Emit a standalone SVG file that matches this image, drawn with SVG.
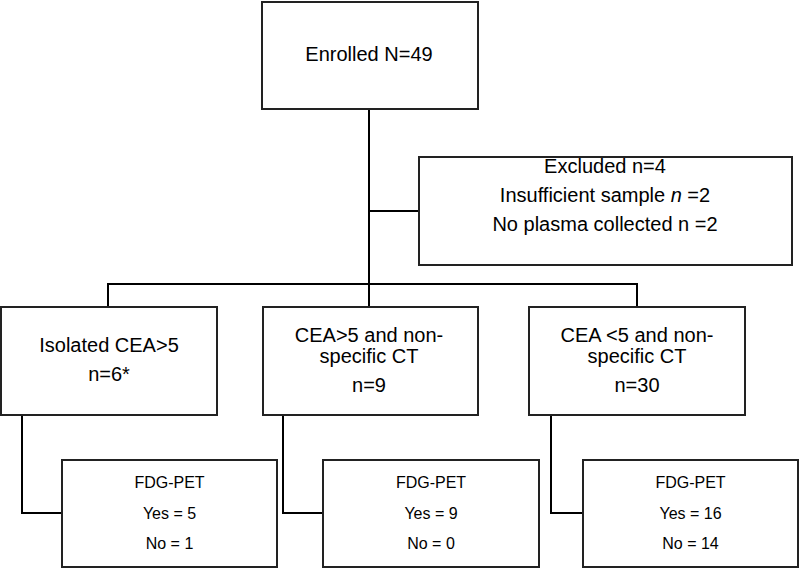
<svg xmlns="http://www.w3.org/2000/svg" width="800" height="569" viewBox="0 0 800 569">
<style>
.box{fill:#fff;stroke:#222;stroke-width:2}
.conn{fill:none;stroke:#000;stroke-width:2}
.t{font-family:"Liberation Sans",Arial,sans-serif;font-size:20px;fill:#000;text-anchor:middle}
.s{font-family:"Liberation Sans",Arial,sans-serif;font-size:16px;fill:#000;text-anchor:middle}
</style>
<rect width="800" height="569" fill="#fff"/>
<g id="connectors">
<path class="conn" d="M369,109 V307"/>
<path class="conn" d="M369,211 H419"/>
<path class="conn" d="M108,307 V284 H637 V307"/>
<path class="conn" d="M22,415 V513 H62"/>
<path class="conn" d="M283,415 V513 H323"/>
<path class="conn" d="M551,415 V513 H583"/>
</g>
<g id="enrolled">
<rect class="box" x="262" y="2" width="216" height="107"/>
<text class="t" x="369" y="61">Enrolled N=49</text>
</g>
<g id="excluded">
<rect class="box" x="419" y="157" width="373" height="108"/>
<text class="t" x="605" y="173">Excluded n=4</text>
<text class="t" x="605" y="202">Insufficient sample <tspan font-style="italic">n</tspan> =2</text>
<text class="t" x="605" y="231">No plasma collected n =2</text>
</g>
<g id="isolated">
<rect class="box" x="1" y="307" width="216" height="108"/>
<text class="t" x="109" y="352">Isolated CEA&gt;5</text>
<text class="t" x="109" y="381">n=6*</text>
</g>
<g id="cea-high">
<rect class="box" x="263" y="307" width="215" height="108"/>
<text class="t" x="369" y="342">CEA&gt;5 and non-</text>
<text class="t" x="369" y="363">specific CT</text>
<text class="t" x="369" y="392">n=9</text>
</g>
<g id="cea-low">
<rect class="box" x="529" y="307" width="216" height="108"/>
<text class="t" x="637" y="342">CEA &lt;5 and non-</text>
<text class="t" x="637" y="363">specific CT</text>
<text class="t" x="637" y="392">n=30</text>
</g>
<g id="pet1">
<rect class="box" x="62" y="460" width="215" height="107"/>
<text class="s" x="169.5" y="488">FDG-PET</text>
<text class="s" x="169.5" y="519">Yes = 5</text>
<text class="s" x="169.5" y="549">No = 1</text>
</g>
<g id="pet2">
<rect class="box" x="323" y="460" width="216" height="107"/>
<text class="s" x="431" y="488">FDG-PET</text>
<text class="s" x="431" y="519">Yes = 9</text>
<text class="s" x="431" y="549">No = 0</text>
</g>
<g id="pet3">
<rect class="box" x="583" y="460" width="215" height="107"/>
<text class="s" x="690.5" y="488">FDG-PET</text>
<text class="s" x="690.5" y="519">Yes = 16</text>
<text class="s" x="690.5" y="549">No = 14</text>
</g>
</svg>
